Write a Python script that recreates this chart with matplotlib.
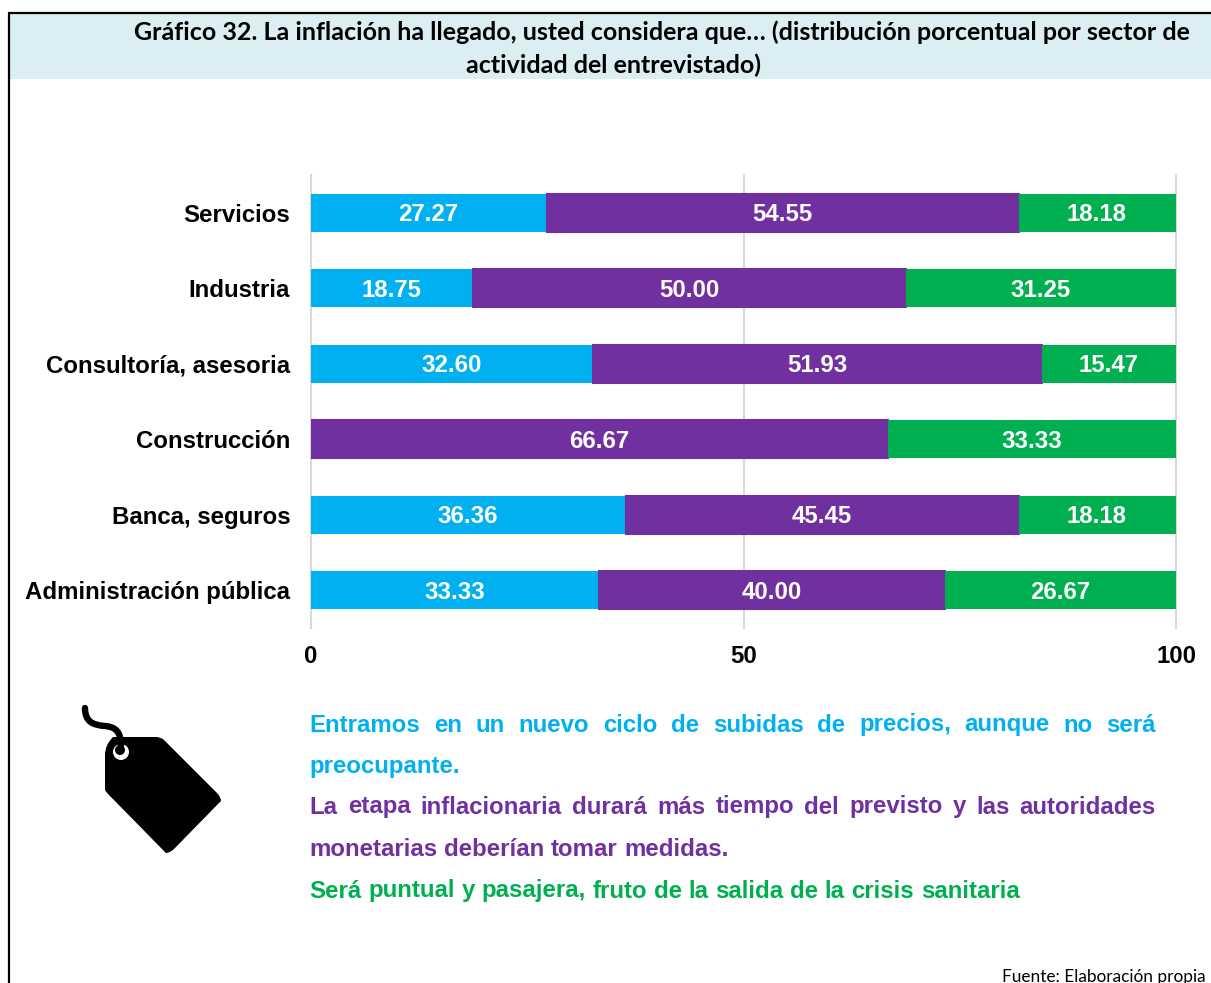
import numpy as np
import matplotlib
matplotlib.use('Agg')
import matplotlib.pyplot as plt
from matplotlib.path import Path
from matplotlib.patches import PathPatch, Circle, Rectangle

categories = ['Servicios', 'Industria', 'Consultoría, asesoria', 'Construcción',
              'Banca, seguros', 'Administración pública']
nuevo_ciclo = [27.27, 18.75, 32.60, 0, 36.36, 33.33]
mas_tiempo = [54.55, 50.00, 51.93, 66.67, 45.45, 40.00]
puntual = [18.18, 31.25, 15.47, 33.33, 18.18, 26.67]
x_ticks = [0, 50, 100]

BLUE = '#00B0F0'
PURPLE = '#7030A0'
GREEN = '#00B050'
SANS = 'Liberation Sans'

fig = plt.figure(figsize=(12.11, 9.83), dpi=100)

# overlay in pixel coordinates for the frame, title, legend text and icon
bg = fig.add_axes([0, 0, 1, 1])
bg.set_xlim(0, 1211)
bg.set_ylim(983, 0)
bg.axis('off')
bg.add_patch(Rectangle((9, 13), 1202, 66, fc='#DAEEF3', ec='none'))
bg.plot([9, 9], [983, 13], color='black', lw=1.6, solid_capstyle='butt')
bg.plot([8, 1211], [13, 13], color='black', lw=1.6, solid_capstyle='butt')
bg.text(662, 32, 'Gráfico 32. La inflación ha llegado, usted considera que… (distribución porcentual por sector de',
        ha='center', va='center', family='Lato', weight='bold', fontsize=18.0, color='black')
bg.text(614, 65, 'actividad del entrevistado)', ha='center', va='center',
        family='Lato', weight='bold', fontsize=18.0, color='black')
bg.text(1206, 977, 'Fuente: Elaboración propia', ha='right', va='center',
        family='Lato', fontsize=12.4, color='black')

# bars
ax = fig.add_axes([311 / 1211, 1 - 628 / 983, 865 / 1211, 453 / 983])
y = np.arange(len(categories))
left = np.zeros(len(categories))
for vals, col in zip([nuevo_ciclo, mas_tiempo, puntual], [BLUE, PURPLE, GREEN]):
    vals = np.array(vals)
    edge = col if col == PURPLE else 'none'
    bars = ax.barh(y, vals, left=left, height=0.5, color=col, edgecolor=edge, lw=1.5, zorder=3)
    for b, v in zip(bars, vals):
        if v > 0:
            ax.text(b.get_x() + b.get_width() / 2 - 0.05, b.get_y() + b.get_height() / 2 + 0.025, '%.2f' % v,
                    ha='center', va='center', color='white', family=SANS,
                    weight='bold', fontsize=17.3, zorder=4)
    left += vals

ax.set_xlim(0, 100)
ax.set_ylim(5.5, -0.5)
ax.set_xticks(x_ticks)
ax.set_yticks(y)
ax.set_yticklabels(categories, family=SANS, weight='bold', fontsize=17.3)
ax.set_xticklabels(x_ticks, family=SANS, weight='bold', fontsize=17.3)
ax.tick_params(axis='both', length=0)
ax.tick_params(axis='y', pad=15)
ax.tick_params(axis='x', pad=12)
ax.grid(axis='x', color='#D9D9D9', lw=1.5, zorder=0)
for line in ax.get_xgridlines():
    line.set_clip_on(False)
ax.set_axisbelow(True)
for s in ax.spines.values():
    s.set_visible(False)

# legend text, justified by hand
def justified(line, y0, col, x0=309.5, x1=1156, justify=True):
    r = fig.canvas.get_renderer()
    words = line.split(' ')
    items = [bg.text(x0, y0, w, ha='left', va='center', family=SANS, weight='bold',
                     fontsize=17.3, color=col) for w in words]
    widths = [t.get_window_extent(r).width for t in items]
    if justify:
        gap = (x1 - x0 - sum(widths)) / (len(words) - 1)
    else:
        gap = 6.65
    x = x0
    for t, w in zip(items, widths):
        t.set_x(x)
        x += w + gap

justified('Entramos en un nuevo ciclo de subidas de precios, aunque no será', 725, BLUE)
justified('preocupante.', 766, BLUE, justify=False)
justified('La etapa inflacionaria durará más tiempo del previsto y las autoridades', 807, PURPLE)
justified('monetarias deberían tomar medidas.', 849, PURPLE, justify=False)
justified('Será puntual y pasajera, fruto de la salida de la crisis sanitaria', 891, GREEN, justify=False)

# price tag icon
tag = Path([(124, 737), (156, 737), (161, 737), (164, 740), (217, 793), (221, 797), (221, 801),
            (218, 804), (174, 849), (170, 853), (166, 853), (163, 850), (109, 795),
            (106, 792), (105, 790), (105, 787), (105, 755), (105, 745), (113, 737), (124, 737)],
           [Path.MOVETO, Path.LINETO, Path.CURVE3, Path.CURVE3, Path.LINETO, Path.CURVE3, Path.CURVE3,
            Path.LINETO, Path.LINETO, Path.CURVE3, Path.CURVE3, Path.LINETO, Path.LINETO,
            Path.CURVE3, Path.CURVE3, Path.LINETO, Path.LINETO, Path.CURVE3, Path.CURVE3, Path.LINETO])
bg.add_patch(PathPatch(tag, fc='black', ec='none', zorder=2))
bg.add_patch(Circle((121, 752), 8, fc='white', ec='none', zorder=3))
bg.add_patch(Circle((120, 750), 5, fc='black', ec='none', zorder=4))
cord = Path([(85, 708), (85, 722), (93, 725), (105, 726), (116, 727), (121, 732), (121, 746)],
            [Path.MOVETO, Path.CURVE4, Path.CURVE4, Path.CURVE4, Path.CURVE4, Path.CURVE4, Path.CURVE4])
bg.add_patch(PathPatch(cord, fc='none', ec='black', lw=4.6, capstyle='round', zorder=5))

fig.savefig('out.png', dpi=100)
